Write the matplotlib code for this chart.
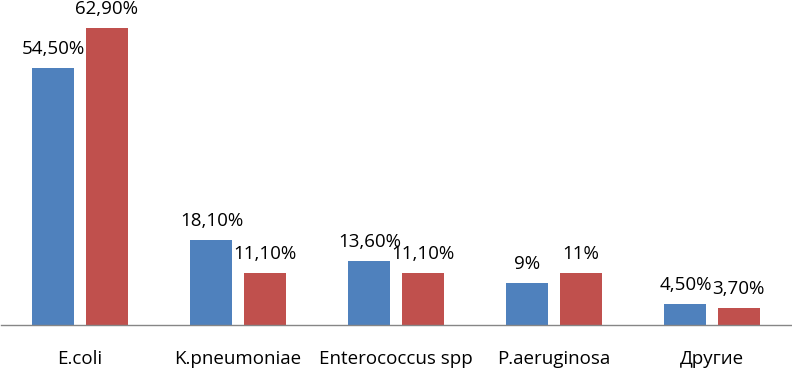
import matplotlib
matplotlib.use("Agg")
import matplotlib.pyplot as plt
import numpy as np

categories = ["E.coli", "K.pneumoniae", "Enterococcus spp", "P.aeruginosa", "Другие"]
series1 = [54.5, 18.1, 13.6, 9.0, 4.5]
series2 = [62.9, 11.1, 11.1, 11.0, 3.7]
labels1 = ["54,50%", "18,10%", "13,60%", "9%", "4,50%"]
labels2 = ["62,90%", "11,10%", "11,10%", "11%", "3,70%"]

plt.rcParams['font.family'] = ['Open Sans', 'DejaVu Sans']

W, H = 792, 369
fig = plt.figure(figsize=(W/100, H/100), dpi=100)
ax = fig.add_axes([1/W, (H-325)/H, 790/W, 325/H])

x = np.arange(len(categories))
bw = 0.266
off = 0.168
b1 = ax.bar(x - off, series1, bw, color="#4F81BD")
b2 = ax.bar(x + off, series2, bw, color="#C0504D")

for bars, labs in ((b1, labels1), (b2, labels2)):
    for r, t in zip(bars, labs):
        ax.annotate(t, (r.get_x() + r.get_width()/2, r.get_height()),
                    xytext=(0, 7), textcoords="offset points",
                    ha="center", va="bottom", fontsize=13.5, color="#000000",
                    annotation_clip=False)

ax.set_xlim(-0.5, len(categories) - 0.5)
ax.set_ylim(0, 325/4.72)
ax.set_xticks(x)
ax.set_xticklabels(categories, fontsize=13.5)
ax.tick_params(axis='x', length=0, pad=18)
ax.set_yticks([])
for s in ("top", "right", "left"):
    ax.spines[s].set_visible(False)
ax.spines["bottom"].set_color("#868686")
ax.spines["bottom"].set_linewidth(1)

fig.savefig("out.png", dpi=100)
